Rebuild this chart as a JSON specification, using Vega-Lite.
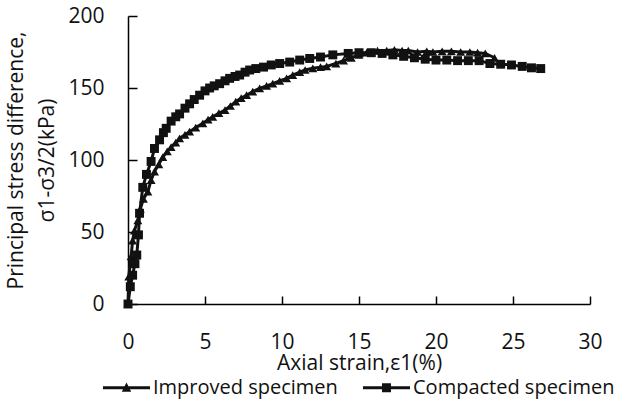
{
  "$schema": "https://vega.github.io/schema/vega-lite/v6.json",
  "width": 462,
  "height": 288,
  "autosize": "none",
  "padding": {"left": 128, "top": 16, "right": 41, "bottom": 107},
  "background": "white",
  "config": {
    "view": {"stroke": null},
    "font": "Open Sans",
    "axis": {"grid": false, "domainColor": "#000", "tickColor": "#000", "labelColor": "#111", "titleColor": "#111", "labelFont": "Open Sans", "titleFont": "Open Sans", "labelFontSize": 21, "titleFontSize": 21, "titleFontWeight": "normal", "domainWidth": 1.5, "tickWidth": 1.5}
  },
  "datasets": {
    "curves": [
      {"series": "Improved specimen", "x": 0, "y": 0},
      {"series": "Improved specimen", "x": 0.05, "y": 19},
      {"series": "Improved specimen", "x": 0.2, "y": 33},
      {"series": "Improved specimen", "x": 0.3, "y": 44},
      {"series": "Improved specimen", "x": 0.42, "y": 51},
      {"series": "Improved specimen", "x": 0.64, "y": 58},
      {"series": "Improved specimen", "x": 0.8, "y": 66},
      {"series": "Improved specimen", "x": 1.0, "y": 73},
      {"series": "Improved specimen", "x": 1.29, "y": 78},
      {"series": "Improved specimen", "x": 1.5, "y": 86},
      {"series": "Improved specimen", "x": 1.72, "y": 92},
      {"series": "Improved specimen", "x": 2.0, "y": 97},
      {"series": "Improved specimen", "x": 2.26, "y": 102},
      {"series": "Improved specimen", "x": 2.55, "y": 106},
      {"series": "Improved specimen", "x": 2.8, "y": 109},
      {"series": "Improved specimen", "x": 3.1, "y": 112},
      {"series": "Improved specimen", "x": 3.35, "y": 115},
      {"series": "Improved specimen", "x": 3.7, "y": 117.5},
      {"series": "Improved specimen", "x": 4.0, "y": 119.7},
      {"series": "Improved specimen", "x": 4.4, "y": 122.5},
      {"series": "Improved specimen", "x": 4.86, "y": 125.5},
      {"series": "Improved specimen", "x": 5.2, "y": 128},
      {"series": "Improved specimen", "x": 5.5, "y": 130},
      {"series": "Improved specimen", "x": 5.9, "y": 132.5},
      {"series": "Improved specimen", "x": 6.3, "y": 134.7},
      {"series": "Improved specimen", "x": 6.65, "y": 137.5},
      {"series": "Improved specimen", "x": 7.0, "y": 140.5},
      {"series": "Improved specimen", "x": 7.35, "y": 143},
      {"series": "Improved specimen", "x": 7.7, "y": 145},
      {"series": "Improved specimen", "x": 8.1, "y": 147.5},
      {"series": "Improved specimen", "x": 8.55, "y": 149.8},
      {"series": "Improved specimen", "x": 9.0, "y": 151.5},
      {"series": "Improved specimen", "x": 9.4, "y": 153},
      {"series": "Improved specimen", "x": 9.85, "y": 155},
      {"series": "Improved specimen", "x": 10.3, "y": 156.7},
      {"series": "Improved specimen", "x": 10.7, "y": 159},
      {"series": "Improved specimen", "x": 11.15, "y": 161},
      {"series": "Improved specimen", "x": 11.5, "y": 162.5},
      {"series": "Improved specimen", "x": 12.0, "y": 163.7},
      {"series": "Improved specimen", "x": 12.5, "y": 164.5},
      {"series": "Improved specimen", "x": 12.9, "y": 165},
      {"series": "Improved specimen", "x": 13.5, "y": 167},
      {"series": "Improved specimen", "x": 14.0, "y": 169},
      {"series": "Improved specimen", "x": 14.5, "y": 171},
      {"series": "Improved specimen", "x": 15.0, "y": 173},
      {"series": "Improved specimen", "x": 15.5, "y": 174.5},
      {"series": "Improved specimen", "x": 16.2, "y": 176},
      {"series": "Improved specimen", "x": 16.8, "y": 176},
      {"series": "Improved specimen", "x": 17.3, "y": 176.5},
      {"series": "Improved specimen", "x": 17.8, "y": 176},
      {"series": "Improved specimen", "x": 18.2, "y": 176},
      {"series": "Improved specimen", "x": 18.8, "y": 175},
      {"series": "Improved specimen", "x": 19.4, "y": 175.5},
      {"series": "Improved specimen", "x": 19.8, "y": 175},
      {"series": "Improved specimen", "x": 20.4, "y": 175.5},
      {"series": "Improved specimen", "x": 21.0, "y": 175.5},
      {"series": "Improved specimen", "x": 21.6, "y": 175},
      {"series": "Improved specimen", "x": 22.2, "y": 175},
      {"series": "Improved specimen", "x": 22.7, "y": 174.5},
      {"series": "Improved specimen", "x": 23.2, "y": 174},
      {"series": "Improved specimen", "x": 23.8, "y": 171},
      {"series": "Compacted specimen", "x": 0, "y": 0},
      {"series": "Compacted specimen", "x": 0.15, "y": 12},
      {"series": "Compacted specimen", "x": 0.3, "y": 20},
      {"series": "Compacted specimen", "x": 0.45, "y": 28},
      {"series": "Compacted specimen", "x": 0.57, "y": 34},
      {"series": "Compacted specimen", "x": 0.68, "y": 48},
      {"series": "Compacted specimen", "x": 0.75, "y": 63},
      {"series": "Compacted specimen", "x": 0.96, "y": 81},
      {"series": "Compacted specimen", "x": 1.2, "y": 90},
      {"series": "Compacted specimen", "x": 1.5, "y": 99},
      {"series": "Compacted specimen", "x": 1.72, "y": 108},
      {"series": "Compacted specimen", "x": 2.05, "y": 114},
      {"series": "Compacted specimen", "x": 2.3, "y": 119},
      {"series": "Compacted specimen", "x": 2.48, "y": 122},
      {"series": "Compacted specimen", "x": 2.8, "y": 127},
      {"series": "Compacted specimen", "x": 3.1, "y": 130},
      {"series": "Compacted specimen", "x": 3.35, "y": 132},
      {"series": "Compacted specimen", "x": 3.7, "y": 136},
      {"series": "Compacted specimen", "x": 4.0, "y": 139},
      {"series": "Compacted specimen", "x": 4.3, "y": 142},
      {"series": "Compacted specimen", "x": 4.65, "y": 145},
      {"series": "Compacted specimen", "x": 5.0, "y": 148},
      {"series": "Compacted specimen", "x": 5.3, "y": 150},
      {"series": "Compacted specimen", "x": 5.6, "y": 151.5},
      {"series": "Compacted specimen", "x": 5.95, "y": 153},
      {"series": "Compacted specimen", "x": 6.3, "y": 155},
      {"series": "Compacted specimen", "x": 6.6, "y": 156.7},
      {"series": "Compacted specimen", "x": 6.95, "y": 158},
      {"series": "Compacted specimen", "x": 7.25, "y": 159},
      {"series": "Compacted specimen", "x": 7.6, "y": 161},
      {"series": "Compacted specimen", "x": 7.9, "y": 162.5},
      {"series": "Compacted specimen", "x": 8.3, "y": 163.5},
      {"series": "Compacted specimen", "x": 8.8, "y": 164.5},
      {"series": "Compacted specimen", "x": 9.3, "y": 166},
      {"series": "Compacted specimen", "x": 9.85, "y": 167},
      {"series": "Compacted specimen", "x": 10.5, "y": 168},
      {"series": "Compacted specimen", "x": 11.15, "y": 169.4},
      {"series": "Compacted specimen", "x": 11.8, "y": 170.5},
      {"series": "Compacted specimen", "x": 12.5, "y": 171.5},
      {"series": "Compacted specimen", "x": 13.3, "y": 173},
      {"series": "Compacted specimen", "x": 14.3, "y": 174},
      {"series": "Compacted specimen", "x": 15.0, "y": 174.5},
      {"series": "Compacted specimen", "x": 15.8, "y": 174.5},
      {"series": "Compacted specimen", "x": 16.5, "y": 174},
      {"series": "Compacted specimen", "x": 17.2, "y": 173},
      {"series": "Compacted specimen", "x": 17.9, "y": 172},
      {"series": "Compacted specimen", "x": 18.6, "y": 171},
      {"series": "Compacted specimen", "x": 19.3, "y": 170},
      {"series": "Compacted specimen", "x": 20.0, "y": 169.4},
      {"series": "Compacted specimen", "x": 20.7, "y": 169.4},
      {"series": "Compacted specimen", "x": 21.4, "y": 169},
      {"series": "Compacted specimen", "x": 22.1, "y": 169},
      {"series": "Compacted specimen", "x": 22.8, "y": 169},
      {"series": "Compacted specimen", "x": 23.5, "y": 167},
      {"series": "Compacted specimen", "x": 24.2, "y": 166.5},
      {"series": "Compacted specimen", "x": 24.9, "y": 166},
      {"series": "Compacted specimen", "x": 25.6, "y": 165},
      {"series": "Compacted specimen", "x": 26.2, "y": 164},
      {"series": "Compacted specimen", "x": 26.8, "y": 163.5}
    ]
  },
  "data": {"name": "curves"},
  "encoding": {
    "x": {
      "field": "x", "type": "quantitative",
      "scale": {"domain": [0, 30], "nice": false, "zero": false},
      "axis": {"values": [0, 5, 10, 15, 20, 25, 30], "tickSize": -8, "labelPadding": 35, "title": "Axial strain,ε1(%)", "titlePadding": 0, "labelFlush": false}
    },
    "y": {
      "field": "y", "type": "quantitative",
      "scale": {"domain": [0, 200], "nice": false},
      "axis": {"values": [0, 50, 100, 150, 200], "tickSize": -9, "labelPadding": 33, "title": ["Principal stress difference,", "σ1-σ3/2(kPa)"], "titleLineHeight": 31, "titlePadding": 10}
    }
  },
  "layer": [
    {
      "mark": {"type": "line", "color": "#111", "strokeWidth": 3},
      "encoding": {"detail": {"field": "series"}}
    },
    {
      "transform": [{"filter": "datum.series === 'Improved specimen'"}],
      "mark": {"type": "point", "filled": true, "color": "#111", "size": 80, "opacity": 1, "shape": "triangle-up"}
    },
    {
      "transform": [{"filter": "datum.series === 'Compacted specimen'"}],
      "mark": {"type": "point", "filled": true, "color": "#111", "size": 80, "opacity": 1, "shape": "square"}
    },
    {
      "mark": {"type": "point", "filled": true, "color": "#111", "size": 2209, "opacity": 0},
      "encoding": {
        "shape": {
          "field": "series", "type": "nominal",
          "scale": {"domain": ["Improved specimen", "Compacted specimen"], "range": ["M-1,-0.065H1V0.065H-1ZM-0.2,0.17L0,-0.22L0.2,0.17Z", "M-1,-0.065H1V0.065H-1ZM-0.19,-0.19H0.19V0.19H-0.19Z"]},
          "legend": {
            "title": null,
            "orient": "none",
            "direction": "horizontal",
            "legendX": -26,
            "legendY": 347,
            "labelFont": "Open Sans",
            "labelFontSize": 20,
            "labelColor": "#111",
            "labelLimit": 400,
            "symbolSize": 2209,
            "symbolFillColor": "#111",
            "symbolOpacity": 1,
            "labelOffset": 2,
            "columnPadding": 22,
            "encode": {
              "symbols": {
                "update": {
                  "size": {"value": 2209},
                  "fill": {"value": "#111"},
                  "opacity": {"value": 1}
                }
              }
            }
          }
        }
      }
    }
  ]
}
